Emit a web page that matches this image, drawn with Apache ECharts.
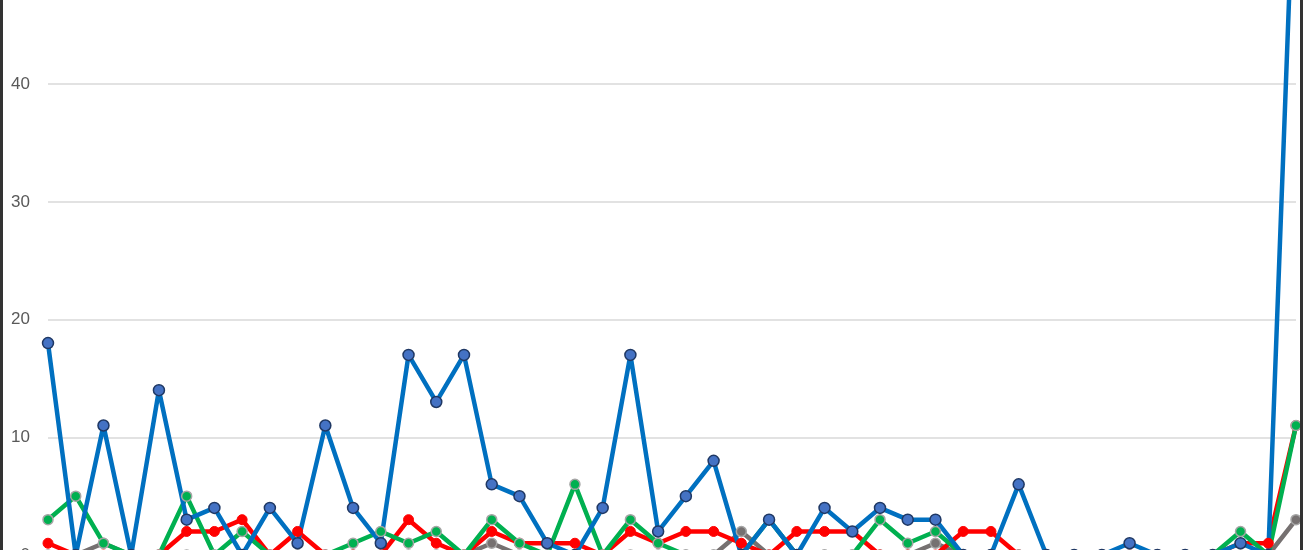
<!DOCTYPE html>
<html>
<head>
<meta charset="utf-8">
<script src="https://cdn.jsdelivr.net/npm/echarts@6/dist/echarts.min.js"></script>
<style>
  html, body { margin: 0; padding: 0; background: #fff; width: 1303px; height: 550px; overflow: hidden; position: relative; }
  #chart { position: absolute; left: 0; top: -300px; width: 1303px; height: 900px; }
  .edge { position: absolute; top: 0; height: 550px; background: #333; }
</style>
</head>
<body>
<div id="chart"></div>
<div class="edge" style="left:0;width:3px;"></div>
<div class="edge" style="left:1300px;width:3px;"></div>
<script>
const categories = Array.from({length: 46}, (_, i) => String(i + 1));
const grayValues  = [0,0,1,0,0,0,0,0,0,0,0,0,0,0,0,0,1,0,0,0,0,0,0,0,0,2,0,0,0,0,0,0,1,0,0,0,0,0,0,0,0,0,0,0,0,3];
const redValues   = [1,0,0,0,0,2,2,3,0,2,0,0,0,3,1,0,2,1,1,1,0,2,1,2,2,1,0,2,2,2,0,0,0,2,2,0,0,0,0,0,0,0,0,1,1,11];
const greenValues = [3,5,1,0,0,5,0,2,0,0,0,1,2,1,2,0,3,1,0,6,0,3,1,0,0,0,3,0,0,0,3,1,2,0,0,0,0,0,0,0,0,0,0,2,0,11];
const blueValues  = [18,0,11,0,14,3,4,0,4,1,11,4,1,17,13,17,6,5,1,0,4,17,2,5,8,0,3,0,4,2,4,3,3,0,0,6,0,0,0,1,0,0,0,1,0,63];
const yTicks = [0, 10, 20, 30, 40, 50, 60, 70];

function mk(name, data, lineColor, fill, border, bw, size) {
  return {
    name, type: 'line', data,
    symbol: 'circle', symbolSize: size, showAllSymbol: true,
    lineStyle: { color: lineColor, width: 4.5 },
    itemStyle: { color: fill, borderColor: border, borderWidth: bw },
    emphasis: { disabled: true }
  };
}

const chart = echarts.init(document.getElementById('chart'), null, { renderer: 'canvas' });
chart.setOption({
  animation: false,
  grid: { left: 48, right: 7, top: 31, bottom: 45, containLabel: false },
  xAxis: {
    type: 'category', data: categories, boundaryGap: false,
    axisLine: { show: false }, axisTick: { show: false }, axisLabel: { show: false },
    splitLine: { show: false }
  },
  yAxis: {
    type: 'value', min: yTicks[0], max: yTicks[yTicks.length - 1], interval: 10,
    axisLine: { show: false }, axisTick: { show: false },
    axisLabel: { margin: 18, color: '#595959', fontSize: 17, fontFamily: 'Liberation Sans, Arial, sans-serif' },
    splitLine: { lineStyle: { color: '#d9d9d9', width: 1.5 } }
  },
  series: [
    mk('gray', grayValues, '#767171', '#767171', '#a5a5a5', 1.5, 10),
    mk('red', redValues, '#ff0000', '#ff0000', '#ff0000', 1, 10),
    mk('green', greenValues, '#00b050', '#00b050', '#a5a5a5', 1.5, 10),
    mk('blue', blueValues, '#0070c0', '#4472c4', '#1f3864', 1.5, 11)
  ]
});
</script>
</body>
</html>
